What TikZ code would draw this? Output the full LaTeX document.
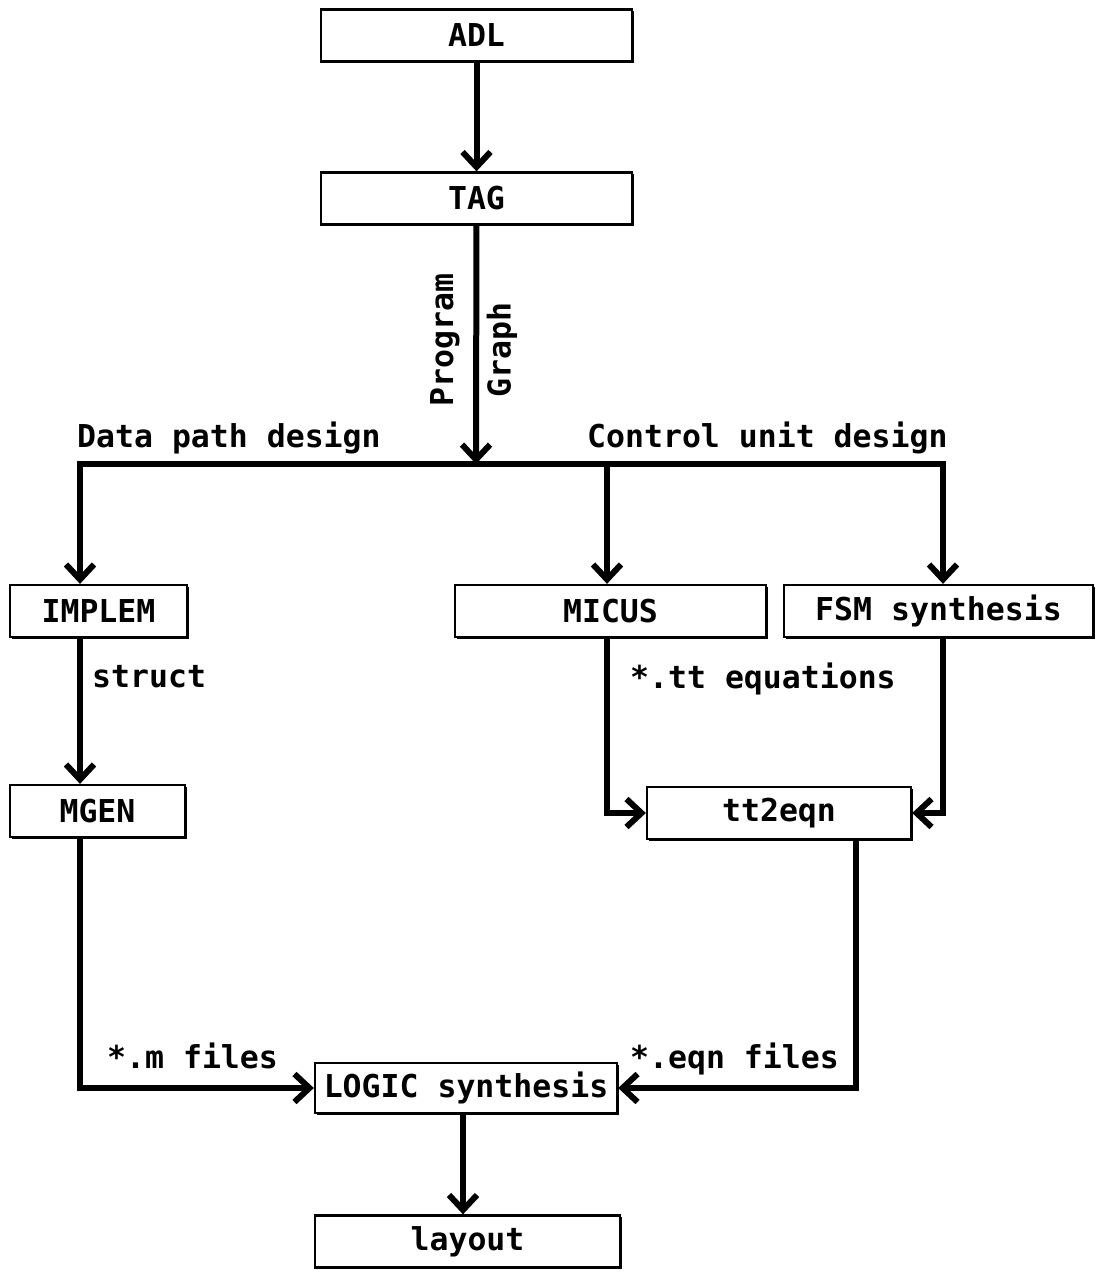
\documentclass[tikz,border=0pt]{standalone}
\usepackage{fontspec}
\setmainfont{DejaVu Sans Mono}
\usetikzlibrary{arrows.meta,shadows}
\begin{document}
\begin{tikzpicture}[x=1pt,y=-1pt,
  font=\fontsize{31.5}{35}\selectfont\bfseries,
  box/.style={draw, line width=2.3pt, fill=white, inner sep=0pt, minimum height=52pt,
    drop shadow={shadow xshift=1.6pt, shadow yshift=-1.6pt, fill=black, opacity=1}},
  lbl/.style={inner sep=0pt, anchor=base west},
  conn/.style={line width=6pt, line join=miter},
  arr/.style={conn, -{Straight Barb[length=15pt,width=28pt]}},
  arrr/.style={conn, {Straight Barb[length=15pt,width=28pt]}-{Straight Barb[length=15pt,width=28pt]}}]
\useasboundingbox[fill=white] (0,0) rectangle (1097,1273);

\node[box, minimum width=311pt] (ADL) at (476.5,35.5) {ADL};
\node[box, minimum width=311pt] (TAG) at (476.5,198.5) {TAG};
\node[box, minimum width=177pt] (IMPLEM) at (98.5,611) {IMPLEM};
\node[box, minimum width=311pt] (MICUS) at (610.5,611) {MICUS};
\node[box, minimum width=309pt] (FSM) at (938.5,611) {FSM synthesis};
\node[box, minimum width=175pt] (MGEN) at (97.5,811) {MGEN};
\node[box, minimum width=264pt] (TT) at (779,813) {tt2eqn};
\node[box, minimum width=302pt, minimum height=50pt] (LOGIC) at (466,1088) {LOGIC synthesis};
\node[box, minimum width=305pt] (LAY) at (467.5,1241.5) {layout};

\coordinate (busL) at (80,464);
\coordinate (busM) at (476,464);
\coordinate (busC) at (607,464);
\coordinate (busR) at (943,464);
\coordinate (ttx) at (856,0);
\coordinate (lx) at (463,0);

\draw[arr] (ADL) -- (TAG);
\draw[arr] (TAG) -- (busM);
\draw[arrr] (busL |- IMPLEM.north) -- (busL) -- (busR) -- (busR |- FSM.north);
\draw[arr] (busC) -- (busC |- MICUS.north);
\draw[arr] (IMPLEM.south -| busL) -- (MGEN.north -| busL);
\draw[arr] (MICUS.south -| busC) |- (TT.west);
\draw[arr] (FSM.south -| busR) |- (TT.east);
\draw[arr] (MGEN.south -| busL) |- (LOGIC.west);
\draw[arr] (TT.south -| ttx) |- (LOGIC.east);
\draw[arr] (LOGIC.south -| lx) -- (LAY.north -| lx);

\node[inner sep=0pt, rotate=90] (prog) at (445,340) {Program};
\node[inner sep=0pt, rotate=90] (graph) at (502,350) {Graph};
\node[lbl] (dpd) at (77,447) {Data path design};
\node[lbl] (cud) at (587,447) {Control unit design};
\node[lbl] (st) at (92,687) {struct};
\node[lbl] (tte) at (630,688) {*.tt equations};
\node[lbl] (mf) at (107,1068) {*.m files};
\node[lbl] (ef) at (630,1068) {*.eqn files};
\end{tikzpicture}
\end{document}
